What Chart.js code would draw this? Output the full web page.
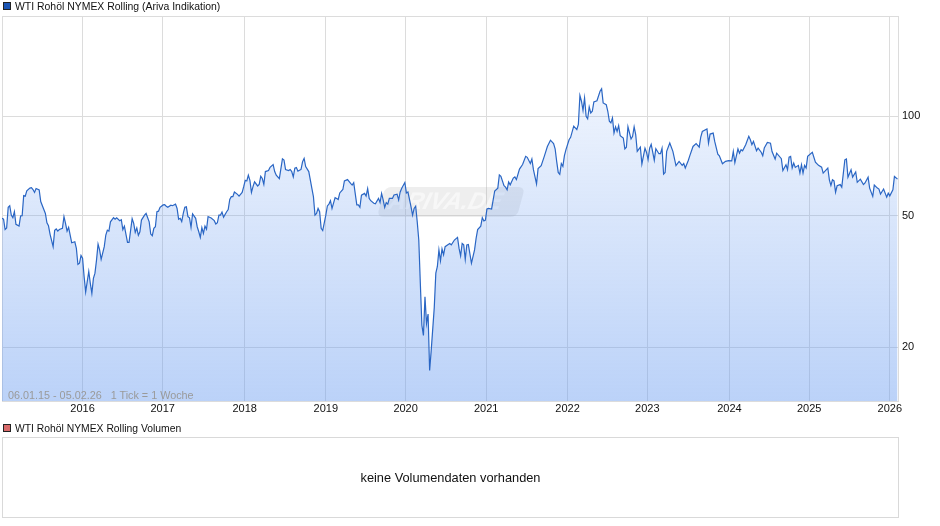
<!DOCTYPE html>
<html>
<head>
<meta charset="utf-8">
<title>WTI Rohöl NYMEX Rolling</title>
<script src="https://cdn.jsdelivr.net/npm/chart.js@4"></script>
<style>
  html, body { margin: 0; padding: 0; background: #fff; }
  body { width: 940px; height: 526px; position: relative; overflow: hidden; font-family: "Liberation Sans", Arial, sans-serif; color: #111; }
  canvas { position: absolute; left: 0; top: 0; }
  .titel { position: absolute; left: 15px; font-size: 10.35px; line-height: 12px; white-space: nowrap; }
  .farbe { position: absolute; left: 3px; width: 6px; height: 6px; border: 1px solid #222; }
  .info { position: absolute; left: 8px; top: 389px; font-size: 10.8px; line-height: 13px; color: #9a9a9a; white-space: pre; }
  #volumen { position: absolute; left: 2px; top: 437px; width: 895px; height: 79px; border: 1px solid #d9d9d9; text-align: center; line-height: 79px; font-size: 12.8px; }
</style>
</head>
<body>
<canvas id="kurs-chart" width="940" height="526"></canvas>
<span class="farbe" style="top:2px;background:#1b55b4"></span>
<div class="titel" style="top:1px;font-size:10.45px">WTI Rohöl NYMEX Rolling (Ariva Indikation)</div>
<div class="info">06.01.15 - 05.02.26   1 Tick = 1 Woche</div>
<span class="farbe" style="top:424px;background:#d96a6a"></span>
<div class="titel" style="top:423px">WTI Rohöl NYMEX Rolling Volumen</div>
<div id="volumen">keine Volumendaten vorhanden</div>
<script>
// Wochen seit dem 06.01.15 und Kurs, je Jahr
const wochen2015 = [0,1,2,3,4,5,6,7,8,9,11,12,13,14,15,16,18,19,20,21,22,24,25,27,28,29,30,31,33,34,35,36,37,39,40,41,42,43,44,45,47,48,49,50,51];
const kurs2015 = [49.1,48.8,45.4,45.9,53.0,53.6,50.2,49.3,51.4,47.1,46.5,49.9,50.0,57.5,57.3,59.5,60.6,60.8,60.0,58.8,60.4,59.8,55.2,52.2,50.8,47.6,46.6,44.0,40.3,45.2,45.6,44.9,45.4,45.8,49.7,47.4,44.9,46.1,43.7,41.4,41.7,39.8,35.6,35.9,37.9];
const wochen2016 = [52,53,54,56,57,58,59,60,61,62,63,64,66,67,68,69,70,72,73,74,76,77,78,79,81,82,84,85,86,87,88,89,90,92,93,95,96,97,98,99,100,101,102];
const kurs2016 = [37.2,32.7,29.4,33.9,31.2,29.1,32.3,33.5,36.7,41.0,39.4,36.9,40.3,43.7,45.2,44.9,47.9,49.3,48.8,49.3,48.3,48.6,45.4,46.5,41.5,41.5,49.0,47.4,44.5,45.9,43.6,44.7,48.5,50.2,50.8,47.9,44.0,43.5,45.8,46.3,51.4,51.6,53.0];
const wochen2017 = [104,105,106,107,109,110,112,113,114,115,116,117,118,119,120,121,122,123,125,126,127,128,129,130,131,132,133,135,137,138,139,140,141,142,143,145,146,147,148,149,150,152,153,155];
const kurs2017 = [53.9,54.0,53.4,53.0,53.8,53.6,54.2,52.6,48.8,49.1,48.0,50.8,53.0,53.2,49.7,49.3,46.1,50.6,49.1,46.3,44.7,43.0,46.0,44.2,46.5,45.5,49.7,49.2,48.3,47.2,47.6,50.2,50.2,51.3,49.5,51.4,52.2,56.0,57.1,57.1,59.0,58.0,57.3,58.8];
const wochen2018 = [156,157,158,159,160,161,162,163,165,166,167,168,169,170,172,173,175,176,177,179,181,182,183,185,186,187,188,189,190,191,193,194,195,196,198,200,201,202,203,204,205,206,207];
const kurs2018 = [61.2,64.0,63.7,66.3,64.0,58.8,61.2,63.3,61.5,62.2,65.8,64.8,62.2,68.0,68.5,70.0,71.4,68.0,66.3,64.7,74.3,73.7,69.0,68.5,69.0,68.0,65.5,69.6,69.9,68.2,69.0,72.8,74.5,70.4,68.0,60.5,57.1,50.2,50.8,52.6,51.4,45.8,45.1];
const wochen2019 = [209,210,211,212,213,215,216,217,218,220,221,223,225,226,227,229,230,231,232,234,235,236,237,238,240,241,243,244,245,246,247,248,249,250,252,253,255,256,257,258];
const kurs2019 = [50.2,53.5,54.2,55.5,52.6,56.7,56.4,56.0,58.6,60.0,63.7,64.3,62.6,61.9,62.9,53.9,53.9,53.0,57.7,58.4,57.3,60.4,56.4,55.5,54.5,54.3,56.4,54.8,58.4,55.8,53.0,54.8,54.2,56.4,56.4,57.8,58.1,55.8,59.0,60.5];
const wochen2020 = [260,261,262,264,265,266,267,268,269,270,271,272,273,274,275,276,277,279,280,281,282,283,284,285,286,288,289,290,292,294,295,296,297,298,299,300,301,303,305,306,307,309,310,311];
const kurs2020 = [63.0,58.6,59.0,53.2,50.2,52.6,53.4,47.9,42.2,31.2,23.3,21.7,28.4,23.6,25.2,17.0,19.5,26.4,33.5,35.1,39.4,36.5,39.7,38.1,40.3,40.9,41.2,40.8,42.2,43.0,39.8,37.8,41.2,40.8,36.9,40.8,40.9,35.9,39.4,42.7,45.4,46.5,49.3,48.2];
const wochen2021 = [312,313,314,316,318,320,321,322,324,325,326,327,328,330,331,332,334,336,338,339,341,342,343,345,346,348,350,352,354,356,357,358,359,360,361,362,363,364];
const kurs2021 = [48.5,52.4,52.6,52.4,59.4,60.6,66.4,65.8,61.6,61.0,59.9,63.2,62.0,65.0,65.5,64.3,69.2,71.4,75.6,75.1,71.9,74.2,68.9,62.4,69.4,70.9,75.6,81.0,84.6,82.6,79.7,73.0,67.6,66.7,71.9,70.5,76.0,79.2];
const wochen2022 = [366,367,369,371,372,373,374,375,376,377,378,379,380,381,382,384,386,387,388,390,391,392,393,394,395,396,397,398,399,401,402,403,404,406,407,408,409,410,412,413,415,416];
const kurs2022 = [84.9,86.3,93.3,91.1,94.4,115.5,111.0,104.2,113.6,100.0,98.2,106.7,102.3,103.5,110.5,111.4,119.0,121.0,109.7,108.4,103.5,96.6,95.5,98.8,89.0,92.9,90.0,93.7,87.3,85.9,79.6,80.6,92.9,85.3,86.9,92.9,88.0,78.3,80.6,71.7,80.0,77.7];
const wochen2023 = [417,418,419,421,422,424,425,426,427,428,429,431,433,435,437,439,440,441,443,444,446,448,450,451,452,455,456,457,459,460,462,463,465,467];
const kurs2023 = [73.9,80.0,82.2,73.6,79.7,77.0,77.0,80.0,66.8,67.6,78.3,83.0,78.3,70.9,73.0,71.0,71.9,69.7,73.6,76.1,81.0,82.6,80.6,86.5,89.9,91.5,82.9,88.3,88.9,83.9,76.8,75.9,71.8,73.0];
const wochen2024 = [469,471,472,473,475,476,477,478,480,482,483,484,485,487,488,490,491,492,494,496,497,499,500,503,504,506,507,508,509,510,511,512,514,515,516,517,518,519,520];
const kurs2024 = [73.4,73.3,78.2,72.4,79.6,77.3,79.2,78.6,82.0,86.9,84.9,82.0,83.9,78.6,80.1,77.8,75.9,80.1,83.3,82.9,78.2,74.2,77.3,74.4,68.5,71.3,68.9,75.2,75.6,69.7,72.1,70.0,71.0,67.3,71.3,67.3,71.0,69.7,75.6];
const wochen2025 = [523,525,527,529,530,533,534,535,536,537,538,539,541,542,544,545,546,548,549,551,552,554,556,557,559,560,562,563,565,566,567,569,571,572];
const kurs2025 = [77.8,72.6,71.0,70.1,67.3,69.7,64.2,61.7,64.2,63.7,58.9,61.6,62.1,61.0,73.8,74.2,65.4,68.9,65.4,67.8,63.1,64.5,62.1,62.8,65.4,60.6,57.2,61.9,60.6,60.2,58.1,60.2,56.9,58.5];
const wochen2026 = [573,575,576,578];
const kurs2026 = [57.4,59.9,65.7,64.5];

// Achsen
const jahre = ['2016','2017','2018','2019','2020','2021','2022','2023','2024','2025','2026'];
const jahrWochen = [52,103.7,156.6,209,260.5,312.5,365,416.5,469.5,521,573];
const kursTicks = [20,50,100];
const WOCHE_MAX = 578.3;
const KURS_MIN = 13.75;
const KURS_MAX = 201;

const alleWochen = [].concat(wochen2015,wochen2016,wochen2017,wochen2018,wochen2019,wochen2020,wochen2021,wochen2022,wochen2023,wochen2024,wochen2025,wochen2026);
const alleKurse = [].concat(kurs2015,kurs2016,kurs2017,kurs2018,kurs2019,kurs2020,kurs2021,kurs2022,kurs2023,kurs2024,kurs2025,kurs2026);
const punkte = alleWochen.map((w, i) => ({ x: w, y: alleKurse[i] }));

// Wasserzeichen hinter der Kurslinie
const wasserzeichen = {
  id: 'wasserzeichen',
  beforeDatasetsDraw(chart) {
    const ctx = chart.ctx;
    ctx.save();
    ctx.translate(385, 187);
    ctx.transform(1, 0, -0.27, 1, 0, 0);
    ctx.fillStyle = 'rgba(170,170,170,0.2)';
    ctx.beginPath();
    ctx.roundRect(0, 0, 140, 30, 6);
    ctx.fill();
    ctx.fillStyle = 'rgba(255,255,255,0.55)';
    ctx.font = 'italic bold 24px "Liberation Sans"';
    ctx.textBaseline = 'middle';
    ctx.fillText('ARIVA.DE', 8, 15);
    ctx.restore();
  }
};

new Chart(document.getElementById('kurs-chart'), {
  type: 'line',
  data: {
    datasets: [{
      data: punkte,
      borderColor: '#2a66c4',
      borderWidth: 1.2,
      pointRadius: 0,
      tension: 0,
      fill: 'start',
      backgroundColor(context) {
        const area = context.chart.chartArea;
        if (!area) return 'rgba(104,155,240,0.2)';
        const verlauf = context.chart.ctx.createLinearGradient(0, area.top, 0, area.bottom);
        verlauf.addColorStop(0, 'rgba(104,155,240,0.03)');
        verlauf.addColorStop(1, 'rgba(104,155,240,0.45)');
        return verlauf;
      }
    }]
  },
  options: {
    responsive: false,
    animation: false,
    devicePixelRatio: 1,
    layout: { padding: { left: 2, top: 16, right: 0, bottom: 0 } },
    plugins: { legend: { display: false }, tooltip: { enabled: false } },
    scales: {
      x: {
        type: 'linear',
        min: 0,
        max: WOCHE_MAX,
        grid: { color: '#dcdcdc', drawTicks: false },
        border: { color: '#dcdcdc' },
        afterBuildTicks(scale) {
          scale.ticks = [0].concat(jahrWochen, [WOCHE_MAX]).map(v => ({ value: v }));
        },
        afterFit(scale) { scale.height = 125; },
        ticks: {
          autoSkip: false,
          maxRotation: 0,
          padding: 1,
          color: '#111',
          font: { family: 'Liberation Sans', size: 11 },
          callback(value) {
            const i = jahrWochen.indexOf(value);
            return i >= 0 ? jahre[i] : '';
          }
        }
      },
      y: {
        type: 'logarithmic',
        position: 'right',
        min: KURS_MIN,
        max: KURS_MAX,
        grid: { color: '#dcdcdc', drawTicks: false },
        border: { color: '#dcdcdc' },
        afterBuildTicks(scale) {
          scale.ticks = [KURS_MIN].concat(kursTicks, [KURS_MAX]).map(v => ({ value: v }));
        },
        afterFit(scale) { scale.width = 42; },
        ticks: {
          autoSkip: false,
          padding: 4,
          color: '#111',
          font: { family: 'Liberation Sans', size: 11 },
          callback(value) { return kursTicks.includes(value) ? String(value) : ''; }
        }
      }
    }
  },
  plugins: [wasserzeichen]
});
</script>
</body>
</html>
